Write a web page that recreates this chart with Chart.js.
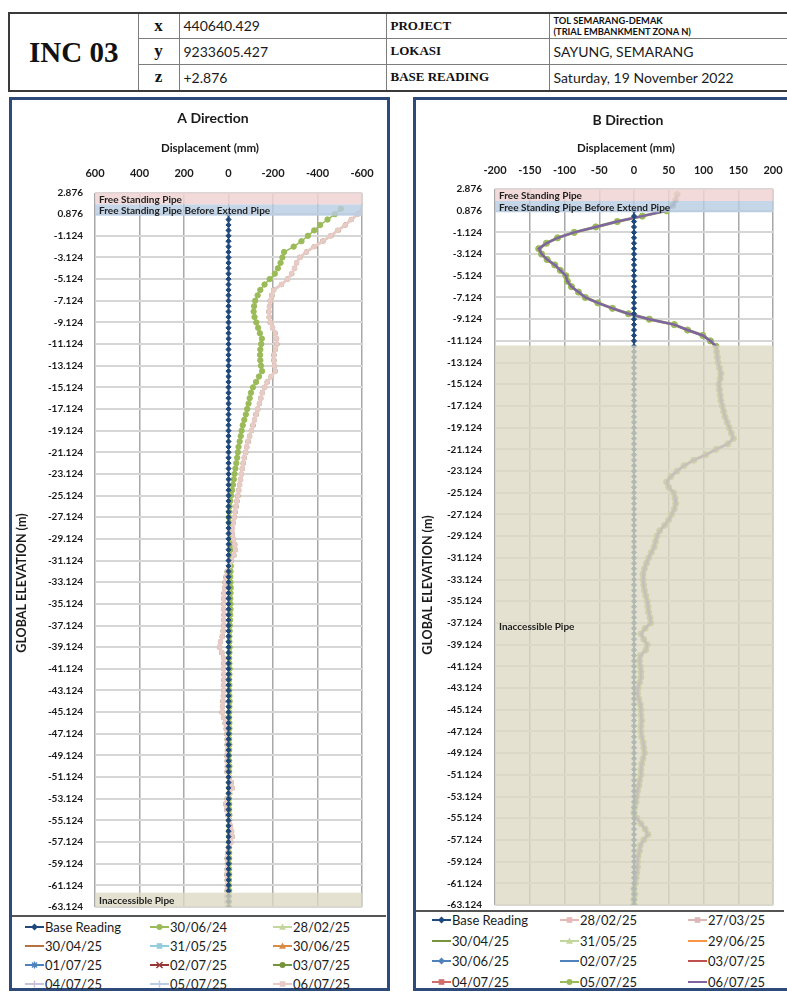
<!DOCTYPE html>
<html>
<head>
<meta charset="utf-8">
<script src="https://cdn.jsdelivr.net/npm/chart.js@4.4.1/dist/chart.umd.min.js"></script>
<style>
html,body{margin:0;padding:0;background:#fff;}
body{width:787px;height:992px;position:relative;overflow:hidden;font-family:Lato,'Open Sans',sans-serif;}
#hdr{position:absolute;left:8px;top:12px;border-collapse:collapse;table-layout:fixed;width:785px;
  font-family:'Liberation Serif','DejaVu Serif',serif;color:#111;border:2px solid #3a3a3a;}
#hdr td{border:1px solid #7d7d7d;padding:0 4px;white-space:nowrap;overflow:hidden;}
#hdr .inc{font-size:29px;font-weight:bold;text-align:center;}
#hdr .ax{font-size:17px;font-weight:bold;text-align:center;}
#hdr .v{font-family:Lato,sans-serif;font-size:14px;color:#1a1a1a;}
#hdr .lb{font-size:13px;font-weight:bold;}
#hdr .pj{font-family:Lato,sans-serif;font-size:9.3px;font-weight:bold;line-height:11px;}
.panel{position:absolute;border:3px solid #2E4A7A;box-sizing:border-box;}
canvas{position:absolute;}
.sep{position:absolute;height:2px;background:#555;}
.leg{position:absolute;height:16px;display:flex;align-items:center;font-size:13px;color:#1b1b1b;white-space:nowrap;}
.leg svg{display:block;margin-right:1px;}
</style>
</head>
<body>
<table id="hdr">
  <colgroup><col style="width:129px"><col style="width:41px"><col style="width:207px"><col style="width:163px"><col style="width:245px"></colgroup>
  <tr style="height:25px"><td rowspan="3" class="inc">INC 03</td><td class="ax">x</td><td class="v">440640.429</td><td class="lb">PROJECT</td><td class="pj">TOL SEMARANG-DEMAK<br>(TRIAL EMBANKMENT ZONA N)</td></tr>
  <tr style="height:26px"><td class="ax">y</td><td class="v">9233605.427</td><td class="lb">LOKASI</td><td class="v">SAYUNG, SEMARANG</td></tr>
  <tr style="height:27px"><td class="ax">z</td><td class="v">+2.876</td><td class="lb">BASE READING</td><td class="v">Saturday, 19 November 2022</td></tr>
</table>

<div class="panel" style="left:9px;top:97px;width:381px;height:894px;"></div>
<div class="panel" style="left:413px;top:97px;width:377px;height:894px;"></div>
<canvas id="chartA" width="374" height="812" style="left:12px;top:100px;width:374px;height:812px;"></canvas>
<canvas id="chartB" width="368" height="810" style="left:416px;top:100px;width:368px;height:810px;"></canvas>
<div class="sep" style="left:12px;top:915px;width:374px;"></div>
<div class="sep" style="left:416px;top:910px;width:368px;"></div>
<div id="legA"></div>
<div id="legB"></div>

<script>
// Depth stations (m, global elevation), every 0.5 m from the top of the pipe
const elevations = [
  2.376, 1.876, 1.376, 0.876, 0.376, -0.124, -0.624, -1.124, -1.624, -2.124,
  -2.624, -3.124, -3.624, -4.124, -4.624, -5.124, -5.624, -6.124, -6.624, -7.124,
  -7.624, -8.124, -8.624, -9.124, -9.624, -10.124, -10.624, -11.124, -11.624, -12.124,
  -12.624, -13.124, -13.624, -14.124, -14.624, -15.124, -15.624, -16.124, -16.624, -17.124,
  -17.624, -18.124, -18.624, -19.124, -19.624, -20.124, -20.624, -21.124, -21.624, -22.124,
  -22.624, -23.124, -23.624, -24.124, -24.624, -25.124, -25.624, -26.124, -26.624, -27.124,
  -27.624, -28.124, -28.624, -29.124, -29.624, -30.124, -30.624, -31.124, -31.624, -32.124,
  -32.624, -33.124, -33.624, -34.124, -34.624, -35.124, -35.624, -36.124, -36.624, -37.124,
  -37.624, -38.124, -38.624, -39.124, -39.624, -40.124, -40.624, -41.124, -41.624, -42.124,
  -42.624, -43.124, -43.624, -44.124, -44.624, -45.124, -45.624, -46.124, -46.624, -47.124,
  -47.624, -48.124, -48.624, -49.124, -49.624, -50.124, -50.624, -51.124, -51.624, -52.124,
  -52.624, -53.124, -53.624, -54.124, -54.624, -55.124, -55.624, -56.124, -56.624, -57.124,
  -57.624, -58.124, -58.624, -59.124, -59.624, -60.124, -60.624, -61.124, -61.624, -62.124,
  -62.624, -63.124
];

// Elevation axis labels
const elevationTicks = [
  2.876, 0.876, -1.124, -3.124, -5.124, -7.124, -9.124, -11.124, -13.124, -15.124,
  -17.124, -19.124, -21.124, -23.124, -25.124, -27.124, -29.124, -31.124, -33.124, -35.124,
  -37.124, -39.124, -41.124, -43.124, -45.124, -47.124, -49.124, -51.124, -53.124, -55.124,
  -57.124, -59.124, -61.124, -63.124
];

// Base reading (reference profile, mm)
const baseReading = [
  null, null, null, 0, 0, 0, 0, 0, 0, 0,
  0, 0, 0, 0, 0, 0, 0, 0, 0, 0,
  0, 0, 0, 0, 0, 0, 0, 0, 0, 0,
  0, 0, 0, 0, 0, 0, 0, 0, 0, 0,
  0, 0, 0, 0, 0, 0, 0, 0, 0, 0,
  0, 0, 0, 0, 0, 0, 0, 0, 0, 0,
  0, 0, 0, 0, 0, 0, 0, 0, 0, 0,
  0, 0, 0, 0, 0, 0, 0, 0, 0, 0,
  0, 0, 0, 0, 0, 0, 0, 0, 0, 0,
  0, 0, 0, 0, 0, 0, 0, 0, 0, 0,
  0, 0, 0, 0, 0, 0, 0, 0, 0, 0,
  0, 0, 0, 0, 0, 0, 0, 0, 0, 0,
  0, 0, 0, 0, 0, 0, 0, 0, 0, 0,
  0, 0
];

// A direction, reading of 30/06/24 (mm)
const dispA_300624 = [
  null, null, -505, -478, -445, -412, -385, -357, -328, -293,
  -250, -242, -234, -222, -208, -185, -162, -143, -131, -120,
  -115, -113, -117, -125, -133, -141, -150, -147, -143, -142,
  -143, -146, -151, -137, -124, -110, -101, -95, -90, -84,
  -78, -71, -64, -59, -55, -50, -45, -42, -39, -35,
  -31, -27, -24, -20, -16, -12, -8, -5, -3, -2,
  -3, -6, -8, -9, -10, -9, -8, -9, -10, -9,
  -8, -9, -10, -9, -8, -9, -9, -8, -7, -6,
  -5, -4, -4, -5, -4, -3, -4, -5, -4, -3,
  -4, -3, -4, -5, -4, -3, -3, -4, -4, -3,
  -3, -4, -3, -2, -3, -4, -3, -3, -4, -3,
  -3, -2, -3, -3, -4, -3, -3, -2, -3, -3,
  -2, -3, -3, -2, -3, -3, -2, -2, -3, -2,
  -2, -2
];

// A direction, 2025 readings (overlapping profiles, mm)
const dispA_2025 = [
  null, null, -605, -580, -552, -525, -492, -460, -424, -385,
  -350, -320, -306, -297, -284, -265, -238, -203, -195, -188,
  -184, -181, -183, -188, -198, -210, -216, -217, -210, -204,
  -204, -207, -210, -192, -174, -162, -152, -145, -139, -131,
  -124, -117, -110, -103, -95, -88, -82, -77, -71, -66,
  -62, -58, -54, -50, -46, -42, -38, -34, -30, -26,
  -22, -18, -17, -22, -28, -31, -24, -12, -4, 6,
  11, 15, 18, 20, 21, 21, 22, 20, 21, 21,
  24, 28, 36, 40, 30, 22, 21, 22, 20, 21,
  22, 21, 23, 25, 27, 28, 22, 15, 10, 7,
  6, 6, 5, 7, 6, 5, 6, -3, -12, -17,
  -5, 6, 13, 8, 2, -4, -9, -14, -17, -10,
  -2, 4, 6, 5, 6, 7, 6, 5, 6, 7,
  6, 6
];

// B direction, 2025 readings (overlapping profiles, mm)
const dispB_2025 = [
  62, 60, 56, 47, 12, -24, -55, -86, -110, -126,
  -137, -133, -125, -114, -106, -98, -96, -90, -80, -70,
  -52, -31, -8, 22, 58, 77, 99, 110, 118, 119,
  120, 121, 123, 125, 124, 122, 123, 124, 125, 127,
  129, 131, 134, 137, 140, 143, 135, 118, 103, 86,
  72, 62, 53, 47, 50, 57, 59, 60, 58, 54,
  50, 44, 37, 33, 31, 29, 25, 21, 18, 15,
  13, 13, 14, 15, 17, 19, 20, 21, 23, 24,
  16, 10, 14, 19, 17, 9, 8, 9, 10, 10,
  8, 6, 5, 7, 9, 10, 10, 11, 10, 10,
  11, 13, 14, 15, 13, 11, 10, 10, 8, 7,
  5, 4, 3, 1, 0, 4, 10, 16, 20, 14,
  9, 8, 6, 5, 5, 4, 3, 2, 0, 1,
  0, 0
];

// Reading dates per direction (legend order)
const readingsA = ['Base Reading', '30/06/24', '28/02/25', '30/04/25', '31/05/25', '30/06/25',
                   '01/07/25', '02/07/25', '03/07/25', '04/07/25', '05/07/25', '06/07/25'];
const readingsB = ['Base Reading', '28/02/25', '27/03/25', '30/04/25', '31/05/25', '29/06/25',
                   '30/06/25', '02/07/25', '03/07/25', '04/07/25', '05/07/25', '06/07/25'];

// Pipe zones (elevation ranges, m)
const freeStandingZone = [2.876, 1.776];
const beforeExtendZone = [1.776, 0.726];
const inaccessibleZoneA = [-61.8, -63.124];
const inaccessibleZoneB = [-11.55, -63.124];
const inaccessibleLabelB = -37.5;

// ---- drawing ----
function profile(values) {
  const pts = [];
  values.forEach((v, i) => { if (v !== null) pts.push({ x: v, y: elevations[i] }); });
  return pts;
}

const stylesA = [
  { c: '#1F497D', p: 'rectRot', w: 1.5, r: 2.6 },
  { c: '#9BBB59', p: 'circle', w: 1.5, r: 2.7 },
  { c: '#C3D69B', p: 'triangle', w: 1.5, r: 2.2 },
  { c: '#B7703F', p: 'dash', w: 1.5, r: 2.2 },
  { c: '#93CDDD', p: 'rect', w: 1.5, r: 2.2 },
  { c: '#D98B45', p: 'triangle', w: 1.5, r: 2.6 },
  { c: '#4F81BD', p: 'star', w: 1.5, r: 2.2 },
  { c: '#953735', p: 'crossRot', w: 1.5, r: 2.4 },
  { c: '#77933C', p: 'circle', w: 1.5, r: 2.2 },
  { c: '#CCC1DA', p: 'cross', w: 1.5, r: 2.2 },
  { c: '#B9CDE5', p: 'cross', w: 1.5, r: 2.2 },
  { c: '#E8CBC6', p: 'rect', w: 3, r: 2.8 }
];
const stylesB = [
  { c: '#1F497D', p: 'rectRot', w: 1.5, r: 2.6 },
  { c: '#E6B9B8', p: 'rect', w: 1.5, r: 2.2 },
  { c: '#DDB7B5', p: 'rect', w: 1.5, r: 2.2 },
  { c: '#77933C', p: 'dash', w: 1.5, r: 2.2 },
  { c: '#C3D69B', p: 'triangle', w: 1.5, r: 2.2 },
  { c: '#F79646', p: 'dash', w: 1.5, r: 2.2 },
  { c: '#4F81BD', p: 'rectRot', w: 1.5, r: 2.2 },
  { c: '#4F81BD', p: 'dash', w: 1.5, r: 2.2 },
  { c: '#C0504D', p: 'dash', w: 1.5, r: 2.2 },
  { c: '#D06C6C', p: 'rect', w: 1.5, r: 2.2 },
  { c: '#9BBB59', p: 'circle', w: 3, r: 3.1 },
  { c: '#8064A2', p: 'dash', w: 2.5, r: 2.2 }
];

function buildDatasets(labels, styles, pick) {
  return labels.map((lab, i) => {
    const s = styles[i];
    return {
      label: lab,
      data: profile(pick(lab)),
      showLine: true,
      borderColor: s.c,
      backgroundColor: s.c,
      borderWidth: s.w,
      pointStyle: s.p,
      pointRadius: s.r,
      pointBorderWidth: 1,
      pointBorderColor: s.c,
      order: i === 0 ? 0 : labels.length - i
    };
  });
}

// Shaded pipe zones with their names, drawn over the profiles
const zonePlugin = {
  id: 'zones',
  afterDatasetsDraw(chart, args, opts) {
    const { ctx, chartArea: a } = chart;
    const y = chart.scales.y;
    ctx.save();
    ctx.beginPath();
    ctx.rect(a.left, a.top, a.right - a.left, a.bottom - a.top);
    ctx.clip();
    opts.zones.forEach(z => {
      const y1 = y.getPixelForValue(z.range[0]);
      const y2 = y.getPixelForValue(z.range[1]);
      ctx.fillStyle = z.color;
      ctx.fillRect(a.left, Math.min(y1, y2), a.right - a.left, Math.abs(y2 - y1));
    });
    ctx.fillStyle = '#1e1e1e';
    ctx.font = 'bold 10px Lato, sans-serif';
    ctx.textAlign = 'left';
    ctx.textBaseline = 'middle';
    opts.zones.forEach(z => {
      const ty = z.labelAt !== undefined
        ? y.getPixelForValue(z.labelAt)
        : (y.getPixelForValue(z.range[0]) + y.getPixelForValue(z.range[1])) / 2 + 1;
      ctx.fillText(z.text, a.left + 4, ty);
    });
    ctx.restore();
  }
};

// Chart heading, axis caption and the rotated elevation caption
const captionPlugin = {
  id: 'captions',
  afterDraw(chart, args, o) {
    const ctx = chart.ctx;
    o.items.forEach(t => {
      ctx.save();
      ctx.translate(t.x, t.y);
      if (t.rotate) ctx.rotate(-Math.PI / 2);
      ctx.font = 'bold ' + t.size + 'px Lato, sans-serif';
      ctx.fillStyle = '#1a1a1a';
      ctx.textAlign = 'center';
      ctx.textBaseline = 'middle';
      ctx.fillText(t.text, 0, 0);
      ctx.restore();
    });
  }
};

const tickFont = { family: 'Lato', size: 11, weight: 'bold' };

function makeChart(id, cfg) {
  return new Chart(document.getElementById(id), {
    type: 'scatter',
    data: { datasets: cfg.datasets },
    options: {
      responsive: false,
      animation: false,
      devicePixelRatio: 1,
      events: [],
      layout: { padding: cfg.padding },
      plugins: {
        legend: { display: false },
        tooltip: { enabled: false },
        title: { display: false },
        zones: { zones: cfg.zones },
        captions: { items: cfg.captions }
      },
      scales: {
        x: {
          type: 'linear', position: 'top',
          min: cfg.xMin, max: cfg.xMax, reverse: cfg.reverse,
          ticks: { stepSize: cfg.step, padding: cfg.xTickPad, color: '#1a1a1a', font: tickFont,
                   maxRotation: 0, autoSkip: false, callback: v => String(v) },
          grid: { color: '#A8A8A8', lineWidth: 1.5, drawTicks: false },
          border: { display: false },
          afterFit: s => { s.height = 30; s.paddingLeft = 0; s.paddingRight = 0; }
        },
        y: {
          type: 'linear', min: -63.124, max: 2.876,
          afterBuildTicks: s => { s.ticks = elevationTicks.map(v => ({ value: v })); },
          ticks: { padding: cfg.yTickPad, color: '#1a1a1a', autoSkip: false,
                   font: { family: 'Lato', size: 10, weight: 'bold' },
                   callback: v => Number(v).toFixed(3) },
          grid: { color: '#D6D6D6', lineWidth: 2, drawTicks: false },
          border: { display: false },
          afterFit: s => { s.width = cfg.yWidth; s.paddingTop = 0; s.paddingBottom = 0; }
        }
      }
    },
    plugins: [zonePlugin, captionPlugin]
  });
}

makeChart('chartA', {
  datasets: buildDatasets(readingsA, stylesA, lab =>
    lab === 'Base Reading' ? baseReading : (lab === '30/06/24' ? dispA_300624 : dispA_2025)),
  padding: { left: 0, right: 24, top: 62.5, bottom: 3 },
  xMin: -600, xMax: 600, step: 200, reverse: true,
  xTickPad: 12, yTickPad: 12, yWidth: 83,
  captions: [
    { text: 'A Direction', x: 201, y: 18, size: 14 },
    { text: 'Displacement (mm)', x: 198, y: 48, size: 11.5 },
    { text: 'GLOBAL ELEVATION (m)', x: 10, y: 483, size: 12.5, rotate: true }
  ],
  zones: [
    { range: freeStandingZone, color: 'rgba(240,212,211,0.85)', text: 'Free Standing Pipe' },
    { range: beforeExtendZone, color: 'rgba(184,204,228,0.8)', text: 'Free Standing Pipe Before Extend Pipe' },
    { range: inaccessibleZoneA, color: 'rgba(221,217,195,0.78)', text: 'Inaccessible Pipe' }
  ]
});

makeChart('chartB', {
  datasets: buildDatasets(readingsB, stylesB, lab =>
    lab === 'Base Reading' ? baseReading : dispB_2025),
  padding: { left: 0, right: 11, top: 59, bottom: 5 },
  xMin: -200, xMax: 200, step: 50, reverse: false,
  xTickPad: 11.7, yTickPad: 13, yWidth: 79,
  captions: [
    { text: 'B Direction', x: 212, y: 20, size: 14 },
    { text: 'Displacement (mm)', x: 210, y: 48.3, size: 11.5 },
    { text: 'GLOBAL ELEVATION (m)', x: 12, y: 485, size: 12.5, rotate: true }
  ],
  zones: [
    { range: freeStandingZone, color: 'rgba(240,212,211,0.85)', text: 'Free Standing Pipe' },
    { range: beforeExtendZone, color: 'rgba(184,204,228,0.8)', text: 'Free Standing Pipe Before Extend Pipe' },
    { range: inaccessibleZoneB, color: 'rgba(221,217,195,0.78)', text: 'Inaccessible Pipe', labelAt: inaccessibleLabelB }
  ]
});

// ---- legends ----
function markerSvg(style, color) {
  const c = 9.5;
  let m = '';
  switch (style) {
    case 'rectRot': m = `<polygon points="${c},2.5 ${c + 3.5},6 ${c},9.5 ${c - 3.5},6" fill="${color}"/>`; break;
    case 'circle': m = `<circle cx="${c}" cy="6" r="3" fill="${color}"/>`; break;
    case 'triangle': m = `<polygon points="${c},2.5 ${c + 3.5},8.8 ${c - 3.5},8.8" fill="${color}"/>`; break;
    case 'rect': m = `<rect x="${c - 2.8}" y="3.2" width="5.6" height="5.6" fill="${color}"/>`; break;
    case 'cross': m = `<path d="M${c} 2.5V9.5M${c - 3.5} 6H${c + 3.5}" stroke="${color}" stroke-width="1.5"/>`; break;
    case 'crossRot': m = `<path d="M${c - 3} 3L${c + 3} 9M${c - 3} 9L${c + 3} 3" stroke="${color}" stroke-width="1.5"/>`; break;
    case 'star': m = `<path d="M${c} 2.5V9.5M${c - 3.5} 6H${c + 3.5}M${c - 2.5} 3.5L${c + 2.5} 8.5M${c - 2.5} 8.5L${c + 2.5} 3.5" stroke="${color}" stroke-width="1.3"/>`; break;
    default: m = '';
  }
  return `<svg width="19" height="12" viewBox="0 0 19 12"><line x1="0" y1="6" x2="19" y2="6" stroke="${color}" stroke-width="2"/>${m}</svg>`;
}

function buildLegend(hostId, labels, styles, cols, rows) {
  const host = document.getElementById(hostId);
  labels.forEach((lab, i) => {
    const d = document.createElement('div');
    d.className = 'leg';
    d.style.left = cols[i % 3] + 'px';
    d.style.top = (rows[Math.floor(i / 3)] - 8) + 'px';
    d.innerHTML = markerSvg(styles[i].p, styles[i].c) + '<span>' + lab + '</span>';
    host.appendChild(d);
  });
}

buildLegend('legA', readingsA, stylesA, [25, 150, 273], [927, 946, 965, 984]);
buildLegend('legB', readingsB, stylesB, [432, 560, 688], [920, 940.5, 961, 982]);
</script>
</body>
</html>
